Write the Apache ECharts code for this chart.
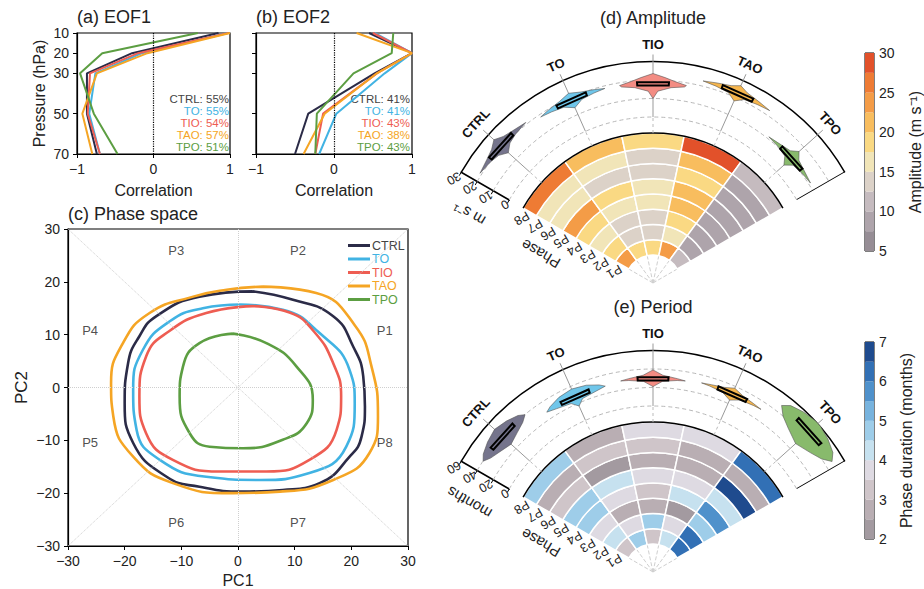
<!DOCTYPE html>
<html>
<head>
<meta charset="utf-8">
<script src="https://cdn.jsdelivr.net/npm/echarts@6/dist/echarts.min.js"></script>
<style>
html, body { margin: 0; padding: 0; background: #fff; }
#chart { width: 924px; height: 589px; }
</style>
</head>
<body>
<div id="chart"></div>
<script>
// ---- data ----
const experiments = ['CTRL', 'TO', 'TIO', 'TAO', 'TPO'];
const phases = ['P1', 'P2', 'P3', 'P4', 'P5', 'P6', 'P7', 'P8'];

// (a)(b) vertical EOF structures, one value per pressure level
const levels = [10, 20, 30, 50, 70];
const eof1CTRL = [0.85, -0.28, -0.87, -0.87, -0.74];
const eof1TO = [0.97, -0.15, -0.76, -0.84, -0.70];
const eof1TIO = [0.98, -0.20, -0.83, -0.86, -0.70];
const eof1TAO = [1.00, -0.08, -0.74, -0.93, -0.80];
const eof1TPO = [0.58, -0.67, -0.96, -0.78, -0.47];
const eof2CTRL = [0.45, 1.00, 0.52, -0.33, -0.50];
const eof2TO = [0.52, 1.00, 0.65, 0.03, -0.19];
const eof2TIO = [0.50, 1.00, 0.55, -0.14, -0.24];
const eof2TAO = [0.29, 1.00, 0.55, -0.12, -0.39];
const eof2TPO = [0.76, 0.74, 0.25, -0.22, -0.24];
const eof1Pct = [55, 55, 54, 57, 51];
const eof2Pct = [41, 41, 43, 38, 43];

// (c) composite QBO cycles in PC1/PC2 space
const loopCTRL = [[2.6,18.2],[9.7,16.6],[16.8,13.5],[20.3,7.8],[22.1,2.1],[22.4,-3.6],[21.8,-9.3],[19.7,-13.1],[14.4,-18.1],[7.9,-19.4],[0.9,-19.7],[-6.8,-18.8],[-12.6,-16.9],[-18.5,-10.5],[-20,-3],[-19.4,4.6],[-17.4,9.7],[-14.4,13.5],[-6.8,17.2]];
const loopTO = [[0.3,15.7],[7.9,14.7],[14.4,10.3],[19.7,3.3],[20.6,-3],[19.1,-11.2],[12.6,-16.2],[3.8,-17.5],[-5.6,-16.9],[-13.8,-13.7],[-17.9,-8],[-18.5,-0.4],[-16.8,7.1],[-12.1,12.5],[-6.2,15]];
const loopTIO = [[2.6,15.4],[9.1,14.2],[13.4,10.6],[16.8,4.6],[18.2,-1.7],[17.4,-8],[12.6,-13.7],[5,-15.9],[-3.2,-15.9],[-11.5,-13.7],[-16.2,-8.7],[-17.4,-1.7],[-16.2,5.9],[-12.1,10.7],[-5.6,14.1]];
const loopTAO = [[4.4,19.1],[13.8,17.9],[20.6,11.8],[23.6,3.8],[24.7,-5.5],[23.2,-12.4],[16.8,-17.5],[7.4,-19.7],[-0.9,-20],[-11.5,-18.1],[-18.5,-13.1],[-22,-5.5],[-22.4,0.8],[-20.3,8.4],[-15.6,14.1],[-7.9,17.2],[-2,18.5]];
const loopTPO = [[-0.9,10.2],[5,8.4],[10.3,4],[13.2,-2.3],[12.1,-6.8],[7.9,-9.9],[0.9,-11.5],[-5,-11.2],[-8.5,-8.7],[-10.3,-1.7],[-9.7,4],[-6.8,8.4]];

// (d) amplitude per phase (P1..P8), m/s
const ampCTRL = [23, 18.5, 16.5, 18.5, 23, 16.5, 16.5, 26];
const ampTO = [19, 14, 14, 17, 19, 14, 16.5, 21.5];
const ampTIO = [18.5, 14, 14, 17, 17, 14, 14, 19];
const ampTAO = [23, 16.5, 18.5, 22, 22, 19, 22, 28];
const ampTPO = [11, 8, 9, 7.5, 9, 7.5, 8, 11];
const ampMedian = [21, 18.6, 18.2, 22.8, 11.1];
const ampTicks = [0, 10, 20, 30];
const ampEdges = [5, 7.5, 10, 12.5, 15, 17.5, 20, 22.5, 25, 27.5, 30];

// (e) phase duration per phase (P1..P8), months
const perCTRL = [3.3, 4.2, 3.7, 4.5, 4.8, 3.1, 2.6, 4.7];
const perTO = [4.8, 3.7, 2.8, 3.6, 4.2, 2.4, 3.1, 2.7];
const perTIO = [3.2, 4.7, 2.7, 3.3, 3.7, 2.8, 3.2, 3.8];
const perTAO = [4.4, 3.6, 2.3, 4.2, 3.8, 2.8, 2.5, 3.8];
const perTPO = [6.2, 6.1, 4.7, 5.6, 4.3, 6.7, 2.6, 6.1];
const perMedian = [39.8, 28, 30, 31.6, 48];
const perTicks = [0, 20, 40, 60];
const perEdges = [2, 2.5, 3, 3.5, 4, 4.5, 5, 5.5, 6, 6.5, 7];

// violin outlines: [value, half width in experiment units]
const ampViolins = [
  [[15.5,0],[18.5,0.1],[19.8,0.22],[21,0.4],[22.2,0.22],[23.5,0.1],[26,0]],
  [[14,0],[16.8,0.12],[17.8,0.28],[18.6,0.42],[19.5,0.3],[20.6,0.14],[22.5,0]],
  [[10,0],[14,0.06],[16.3,0.22],[17.6,0.38],[18.5,0.4],[19.8,0.26],[21.5,0.14],[23.5,0]],
  [[18,0],[21,0.1],[22,0.26],[22.8,0.42],[23.8,0.26],[25,0.1],[27,0]],
  [[5.5,0],[9.2,0.08],[10.3,0.22],[11.1,0.4],[12.1,0.22],[13.3,0.08],[16.5,0]]
];
const perViolins = [
  [[27,0],[31,0.16],[35,0.29],[39.8,0.37],[44,0.3],[48,0.16],[51,0]],
  [[17,0],[23,0.08],[25.5,0.27],[28,0.4],[31,0.33],[35,0.18],[37,0]],
  [[21,0],[27,0.12],[29.2,0.3],[30,0.4],[31.2,0.3],[33.5,0.12],[39,0]],
  [[24,0],[29,0.12],[30.8,0.3],[31.6,0.4],[32.6,0.28],[34.5,0.12],[38,0]],
  [[28,0],[34,0.2],[40,0.34],[48,0.43],[54,0.35],[58,0.2],[60.5,0.04]]
];

// ---- styles ----
const lineColors = ['#2b2b47', '#41b3e3', '#ee5d52', '#f5a524', '#5c9e42'];
const labelColors = ['#444', '#41b3e3', '#ee5d52', '#f5a524', '#5c9e42'];
const violinFill = ['#75748c', '#6fc6ea', '#f38c83', '#f6b64e', '#88ba6c'];
const ampColors = ['#968d95', '#aea4ab', '#c5bbbf', '#dcd2c8', '#f1e5b8', '#fad983', '#f8bd5e', '#f49c47', '#ee7b34', '#e2512a'];
const perColors = ['#a39aa0', '#b9aeb3', '#cfc5c9', '#dedae2', '#c6e1ef', '#9ecde9', '#77b3de', '#4f91cb', '#3270b5', '#1f4b8e'];
const FONT = '"Liberation Sans", Arial, sans-serif';
const centerD = [653, 283];
const centerE = [653, 572];

const minus = v => (v < 0 ? '\u2212' + Math.abs(v) : String(v));
const dist = (p, cs) => Math.hypot(p[0] - cs.cx, p[1] - cs.cy);
const ang = (p, cs) => Math.atan2(p[1] - cs.cy, p[0] - cs.cx);

const eof1 = [eof1CTRL, eof1TO, eof1TIO, eof1TAO, eof1TPO];
const eof2 = [eof2CTRL, eof2TO, eof2TIO, eof2TAO, eof2TPO];
const loops = [loopCTRL, loopTO, loopTIO, loopTAO, loopTPO];
const amp = [ampCTRL, ampTO, ampTIO, ampTAO, ampTPO];
const per = [perCTRL, perTO, perTIO, perTAO, perTPO];

function heatData(table) {
  const out = [];
  table.forEach((col, e) => col.forEach((v, r) => out.push([r, e, v])));
  return out;
}
function barData(edges) {
  const out = [];
  for (let k = 0; k < edges.length - 1; k++) out.push([0, edges[k], (edges[k] + edges[k + 1]) / 2, edges[k + 1]]);
  return out;
}
function pieces(edges, colors) {
  return colors.map((c, k) => k === colors.length - 1
    ? { gte: edges[k], lte: edges[k + 1], color: c }
    : { gte: edges[k], lt: edges[k + 1], color: c });
}
function axisTitle(pt, th, off, text) {
  // text set beside a radial axis, on the side away from the fan
  return { type: 'text', x: pt[0] + off * Math.cos(th - Math.PI / 2), y: pt[1] + off * Math.sin(th - Math.PI / 2), rotation: -th,
    style: { text: text, fill: '#222', font: '15px ' + FONT, align: 'center', verticalAlign: 'middle', textAlign: 'center', textVerticalAlign: 'middle' } };
}

// heat cell: ring sector
function heatCell(params, api) {
  const cs = params.coordSys;
  const ring = api.value(0), ex = api.value(1);
  const band = dist(api.coord([1, ex]), cs) - dist(api.coord([0, ex]), cs);
  const rc = dist(api.coord([ring, ex + 0.5]), cs);
  const a0 = ang(api.coord([ring, ex]), cs);
  const a1 = ang(api.coord([ring, ex + 1]), cs);
  return {
    type: 'sector',
    shape: { cx: cs.cx, cy: cs.cy, r0: rc - band / 2, r: rc + band / 2, startAngle: a0, endAngle: a1, clockwise: true },
    style: { fill: api.visual('color'), stroke: '#fff', lineWidth: 1.5 }
  };
}
// black rim on the outer ring, plus the axis title beside the phase labels
function heatRim(params, api) {
  const cs = params.coordSys;
  const band = dist(api.coord([1, 0]), cs) - dist(api.coord([0, 0]), cs);
  const r = dist(api.coord([api.value(0), 0]), cs) + band / 2;
  const mid = api.coord([4.6, 0]);
  return {
    type: 'group',
    children: [
      { type: 'arc', shape: { cx: cs.cx, cy: cs.cy, r: r, startAngle: ang(api.coord([0, 0]), cs), endAngle: ang(api.coord([0, 5]), cs), clockwise: true },
        style: { stroke: '#000', lineWidth: 1.5, fill: null } },
      axisTitle(mid, ang(mid, cs), 31, 'Phase')
    ]
  };
}
// grid arcs of the violin ring, frame and axis title
function makeArcs(axisMax, title) {
  return function (params, api) {
    const cs = params.coordSys;
    const v = api.value(0);
    const p0 = api.coord([v, 0]);
    const top = v === axisMax;
    const children = [{
      type: 'arc',
      shape: { cx: cs.cx, cy: cs.cy, r: dist(p0, cs), startAngle: ang(p0, cs), endAngle: ang(api.coord([v, 5]), cs), clockwise: true },
      style: { stroke: top ? '#000' : '#b8b8b8', lineWidth: top ? 1.5 : 1, lineDash: top ? null : [4, 3], fill: null }
    }];
    if (top) {
      const mid = api.coord([axisMax / 2, 0]);
      children.push(axisTitle(mid, ang(mid, cs), 32, title));
    }
    return { type: 'group', children: children };
  };
}
function makeViolin(profiles, medians, boxHalf, axisMax) {
  return function (params, api) {
    const cs = params.coordSys, i = params.dataIndex;
    const a = api.value(1);
    const prof = profiles[i];
    const pts = prof.map(p => api.coord([p[0], a + p[1]]));
    for (let k = prof.length - 1; k >= 0; k--) pts.push(api.coord([prof[k][0], a - prof[k][1]]));
    const m = medians[i];
    const box = [api.coord([m - boxHalf, a - 0.19]), api.coord([m - boxHalf, a + 0.19]),
                 api.coord([m + boxHalf, a + 0.19]), api.coord([m + boxHalf, a - 0.19])];
    const inner = api.coord([0, a]);
    const outer = api.coord([axisMax, a]);
    const th = ang(outer, cs), rOut = dist(outer, cs), rIn = dist(inner, cs);
    const at = r => [cs.cx + r * Math.cos(th), cs.cy + r * Math.sin(th)];
    const tick = at(rOut + 7), lab = at(rOut + 17), low = at(rIn - 16);
    return {
      type: 'group',
      children: [
        { type: 'line', shape: { x1: low[0], y1: low[1], x2: inner[0], y2: inner[1] }, style: { stroke: '#bbb', lineWidth: 1, lineDash: [3, 3] } },
        { type: 'line', shape: { x1: inner[0], y1: inner[1], x2: tick[0], y2: tick[1] }, style: { stroke: '#999', lineWidth: 1 } },
        { type: 'polygon', shape: { points: pts }, style: { fill: violinFill[i], stroke: '#555', lineWidth: 0.6 } },
        { type: 'polygon', shape: { points: box }, style: { fill: violinFill[i], stroke: '#000', lineWidth: 2 } },
        { type: 'text', x: lab[0], y: lab[1], rotation: -th - Math.PI / 2,
          style: { text: experiments[i], fill: '#111', font: 'bold 13px ' + FONT, align: 'center', verticalAlign: 'middle', textAlign: 'center', textVerticalAlign: 'middle' } }
      ]
    };
  };
}
function cbRect(params, api) {
  const lo = api.coord([0, api.value(1)]), hi = api.coord([0, api.value(3)]);
  const w = api.size([1, 0])[0];
  return { type: 'rect', shape: { x: lo[0] - w / 2, y: hi[1], width: w, height: lo[1] - hi[1] }, style: { fill: api.visual('color') } };
}

// ---- axes ----
function ax(extra) {
  const base = {
    axisLine: { onZero: false, lineStyle: { color: '#000', width: 1.2 } },
    axisTick: { length: 4, lineStyle: { color: '#000' } },
    axisLabel: { color: '#222', fontSize: 14, fontFamily: FONT, formatter: minus },
    splitLine: { show: false },
    nameTextStyle: { color: '#222', fontSize: 16, fontFamily: FONT }
  };
  return Object.assign(base, extra);
}
const gridBox = { show: true, borderColor: '#000', borderWidth: 1.2, outerBoundsMode: 'none', containLabel: false };

function angleAx(i, split) {
  return {
    polarIndex: i, type: 'value', min: 0, max: 5, interval: 1, startAngle: 150, endAngle: 30, clockwise: true,
    axisLine: { show: false }, axisTick: { show: false }, axisLabel: { show: false },
    splitLine: { show: split, lineStyle: { color: '#cfcfcf', type: 'dashed', width: 1 } }
  };
}
// radius-axis labels turn with the axis, so -150 leaves them at +60 degrees on the page
const RING_LABEL_ROTATE = -150;
function phaseAx(i) {
  return {
    polarIndex: i, type: 'category', data: phases,
    axisLine: { show: false }, axisTick: { show: false }, splitLine: { show: false },
    axisLabel: { interval: 0, rotate: RING_LABEL_ROTATE, fontSize: 12.5, color: '#222', fontFamily: FONT, margin: 3 }
  };
}
function valueRingAx(i, max, step) {
  return {
    polarIndex: i, type: 'value', min: 0, max: max, interval: step,
    axisLine: { show: true, lineStyle: { color: '#000', width: 1.5 } },
    axisTick: { show: true, length: 4, lineStyle: { color: '#000' } },
    axisLabel: { rotate: RING_LABEL_ROTATE, fontSize: 12.5, color: '#222', fontFamily: FONT, margin: 3 },
    splitLine: { show: false }
  };
}
const stubRadius = i => ({ polarIndex: i, type: 'value', min: 0, max: 1, show: false, axisLine: { show: false }, axisTick: { show: false }, axisLabel: { show: false }, splitLine: { show: false } });

// ---- series ----
const series = [];
[eof1, eof2].forEach((tab, g) => {
  tab.forEach((vals, e) => {
    series.push({
      name: experiments[e], type: 'line', xAxisIndex: g, yAxisIndex: g, symbol: 'none',
      data: levels.map((p, k) => [vals[k], p]),
      lineStyle: { color: lineColors[e], width: 2 }, itemStyle: { color: lineColors[e] }, z: 3 + (e === 4 ? 1 : 0),
      markLine: e === 0 ? { silent: true, symbol: 'none', label: { show: false }, data: [{ xAxis: 0 }], lineStyle: { color: '#000', type: 'dotted', width: 1.2 } } : undefined
    });
  });
});
// (c) guides and phase names
const phaseSpots = [[25.9, 10.8], [10.6, 25.9], [-10.9, 25.9], [-26.1, 10.8], [-26.1, -10.5], [-10.9, -25.5], [10.6, -25.5], [25.9, -10.5]];
series.push({
  type: 'scatter', xAxisIndex: 2, yAxisIndex: 2, symbolSize: 0, silent: true,
  data: phases.map((p, k) => ({ name: p, value: phaseSpots[k] })),
  label: { show: true, position: 'inside', formatter: '{b}', color: '#222', fontSize: 13, fontFamily: FONT },
  markLine: {
    silent: true, symbol: 'none', label: { show: false },
    lineStyle: { color: '#cfcfcf', type: 'dotted', width: 1 },
    data: [
      [{ coord: [-30, -30] }, { coord: [30, 30] }],
      [{ coord: [-30, 30] }, { coord: [30, -30] }],
      [{ coord: [0, -30] }, { coord: [0, 30] }],
      [{ coord: [-30, 0] }, { coord: [30, 0] }]
    ]
  }
});
loops.forEach((pts, e) => {
  series.push({
    name: experiments[e], type: 'line', xAxisIndex: 2, yAxisIndex: 2, symbol: 'none', smooth: 0.5,
    data: pts.concat([pts[0]]),
    lineStyle: { color: lineColors[e], width: 2.6 }, itemStyle: { color: lineColors[e] }, z: 3
  });
});
// (d) and (e) fans
[[0, amp, ampViolins, ampMedian, 30, 0.9, ampTicks, 'm s\u207B\u00B9'], [3, per, perViolins, perMedian, 60, 1.8, perTicks, 'months']].forEach(cfg => {
  const [p0, table, prof, med, vmax, boxHalf, ticks, title] = cfg;
  series.push({ type: 'custom', coordinateSystem: 'polar', polarIndex: p0, renderItem: heatCell, data: heatData(table), z: 2, silent: true });
  series.push({ type: 'custom', coordinateSystem: 'polar', polarIndex: p0, renderItem: heatRim, data: [[7, 0]], z: 3, silent: true });
  series.push({ type: 'custom', coordinateSystem: 'polar', polarIndex: p0 + 1, renderItem: makeArcs(vmax, title), data: ticks.map(t => [t, 0]), z: 2, silent: true });
  series.push({ type: 'line', coordinateSystem: 'polar', polarIndex: p0 + 1, symbol: 'none', silent: true,
    data: [[0, 5], [vmax, 5]], lineStyle: { color: '#000', width: 1.5 }, z: 3 });
  series.push({ type: 'custom', coordinateSystem: 'polar', polarIndex: p0 + 1, renderItem: makeViolin(prof, med, boxHalf, vmax),
    data: experiments.map((n, i) => [med[i], i + 0.5]), z: 4, silent: true });
});
const heatAmpIdx = series.findIndex(s => s.renderItem === heatCell);
const heatPerIdx = series.length - 5;
series.push({ type: 'custom', xAxisIndex: 3, yAxisIndex: 3, renderItem: cbRect, encode: { x: 0, y: 1 }, data: barData(ampEdges), silent: true });
series.push({ type: 'custom', xAxisIndex: 4, yAxisIndex: 4, renderItem: cbRect, encode: { x: 0, y: 1 }, data: barData(perEdges), silent: true });
const cbAmpIdx = series.length - 2, cbPerIdx = series.length - 1;

// ---- graphic text ----
const graphic = [];
function txt(x, y, s, opt) {
  graphic.push({ type: 'text', x: x, y: y, silent: true,
    style: Object.assign({ text: s, fill: '#222', font: '18px ' + FONT, textAlign: 'left', textVerticalAlign: 'middle', align: 'left', verticalAlign: 'middle' }, opt || {}) });
}
txt(77, 17, '(a) EOF1');
txt(256, 17, '(b) EOF2');
txt(68, 214, '(c) Phase space');
txt(653, 18, '(d) Amplitude', { textAlign: 'center', align: 'center' });
txt(653, 307, '(e) Period', { textAlign: 'center', align: 'center' });
experiments.forEach((n, i) => {
  const st = { textAlign: 'right', align: 'right', font: '11.5px ' + FONT, fill: labelColors[i] };
  txt(229, 99 + i * 12, n + ': ' + eof1Pct[i] + '%', st);
  txt(410, 99 + i * 12, n + ': ' + eof2Pct[i] + '%', st);
});

const option = {
  animation: false,
  backgroundColor: '#fff',
  textStyle: { fontFamily: FONT },
  grid: [
    Object.assign({ left: 77, top: 33, width: 153, height: 121 }, gridBox),
    Object.assign({ left: 256, top: 33, width: 156, height: 121 }, gridBox),
    Object.assign({ left: 68, top: 229, width: 340, height: 317 }, gridBox),
    Object.assign({ left: 865, top: 53, width: 9, height: 198 }, gridBox, { borderWidth: 1 }),
    Object.assign({ left: 865, top: 342, width: 9, height: 197 }, gridBox, { borderWidth: 1 })
  ],
  xAxis: [
    ax({ gridIndex: 0, type: 'value', min: -1, max: 1, interval: 1, name: 'Correlation', nameLocation: 'middle', nameGap: 28 }),
    ax({ gridIndex: 1, type: 'value', min: -1, max: 1, interval: 1, name: 'Correlation', nameLocation: 'middle', nameGap: 28 }),
    ax({ gridIndex: 2, type: 'value', min: -30, max: 30, interval: 10, name: 'PC1', nameLocation: 'middle', nameGap: 20, nameTextStyle: { color: '#222', fontSize: 16, fontFamily: FONT } }),
    { gridIndex: 3, type: 'category', data: [''], show: false },
    { gridIndex: 4, type: 'category', data: [''], show: false }
  ],
  yAxis: [
    ax({ gridIndex: 0, type: 'value', min: 10, max: 70, interval: 10, inverse: true,
      axisLabel: { color: '#222', fontSize: 14, fontFamily: FONT, customValues: levels },
      axisTick: { length: 4, lineStyle: { color: '#000' }, customValues: levels },
      name: 'Pressure (hPa)', nameLocation: 'middle', nameGap: 30 }),
    ax({ gridIndex: 1, type: 'value', min: 10, max: 70, interval: 10, inverse: true,
      axisLabel: { show: false, customValues: levels },
      axisTick: { length: 4, lineStyle: { color: '#000' }, customValues: levels } }),
    ax({ gridIndex: 2, type: 'value', min: -30, max: 30, interval: 10, name: 'PC2', nameLocation: 'middle', nameGap: 38, nameTextStyle: { color: '#222', fontSize: 17, fontFamily: FONT } }),
    ax({ gridIndex: 3, type: 'value', min: 5, max: 30, interval: 5, position: 'right',
      axisLabel: { color: '#222', fontSize: 14, fontFamily: FONT, margin: 5 },
      name: 'Amplitude (m s\u207B\u00B9)', nameLocation: 'middle', nameGap: 33, nameRotate: 90 }),
    ax({ gridIndex: 4, type: 'value', min: 2, max: 7, interval: 1, position: 'right',
      axisLabel: { color: '#222', fontSize: 14, fontFamily: FONT, margin: 5 },
      name: 'Phase duration (months)', nameLocation: 'middle', nameGap: 24, nameRotate: 90 })
  ],
  polar: [
    { center: centerD, radius: [28, 150] },
    { center: centerD, radius: [166, 221.5] },
    { center: centerD, radius: [0, 28] },
    { center: centerE, radius: [28, 150] },
    { center: centerE, radius: [166, 221.5] },
    { center: centerE, radius: [0, 28] }
  ],
  angleAxis: [angleAx(0, false), angleAx(1, false), angleAx(2, true), angleAx(3, false), angleAx(4, false), angleAx(5, true)],
  radiusAxis: [
    phaseAx(0), valueRingAx(1, 30, 10), stubRadius(2),
    phaseAx(3), valueRingAx(4, 60, 20), stubRadius(5)
  ],
  visualMap: [
    { type: 'piecewise', show: false, dimension: 2, seriesIndex: [heatAmpIdx, cbAmpIdx], pieces: pieces(ampEdges, ampColors) },
    { type: 'piecewise', show: false, dimension: 2, seriesIndex: [heatPerIdx, cbPerIdx], pieces: pieces(perEdges, perColors) }
  ],
  legend: {
    data: experiments.map((n, i) => ({ name: n, textStyle: { color: labelColors[i] } })),
    orient: 'vertical', left: 343, top: 234, itemWidth: 22, itemHeight: 3, itemGap: 0.5, icon: 'rect',
    selectedMode: false, textStyle: { fontSize: 12.5, fontFamily: FONT, lineHeight: 12, padding: [0, 0, 0, -3] }
  },
  graphic: graphic,
  series: series
};

const chart = echarts.init(document.getElementById('chart'), null, { renderer: 'svg' });
chart.setOption(option);
</script>
</body>
</html>
